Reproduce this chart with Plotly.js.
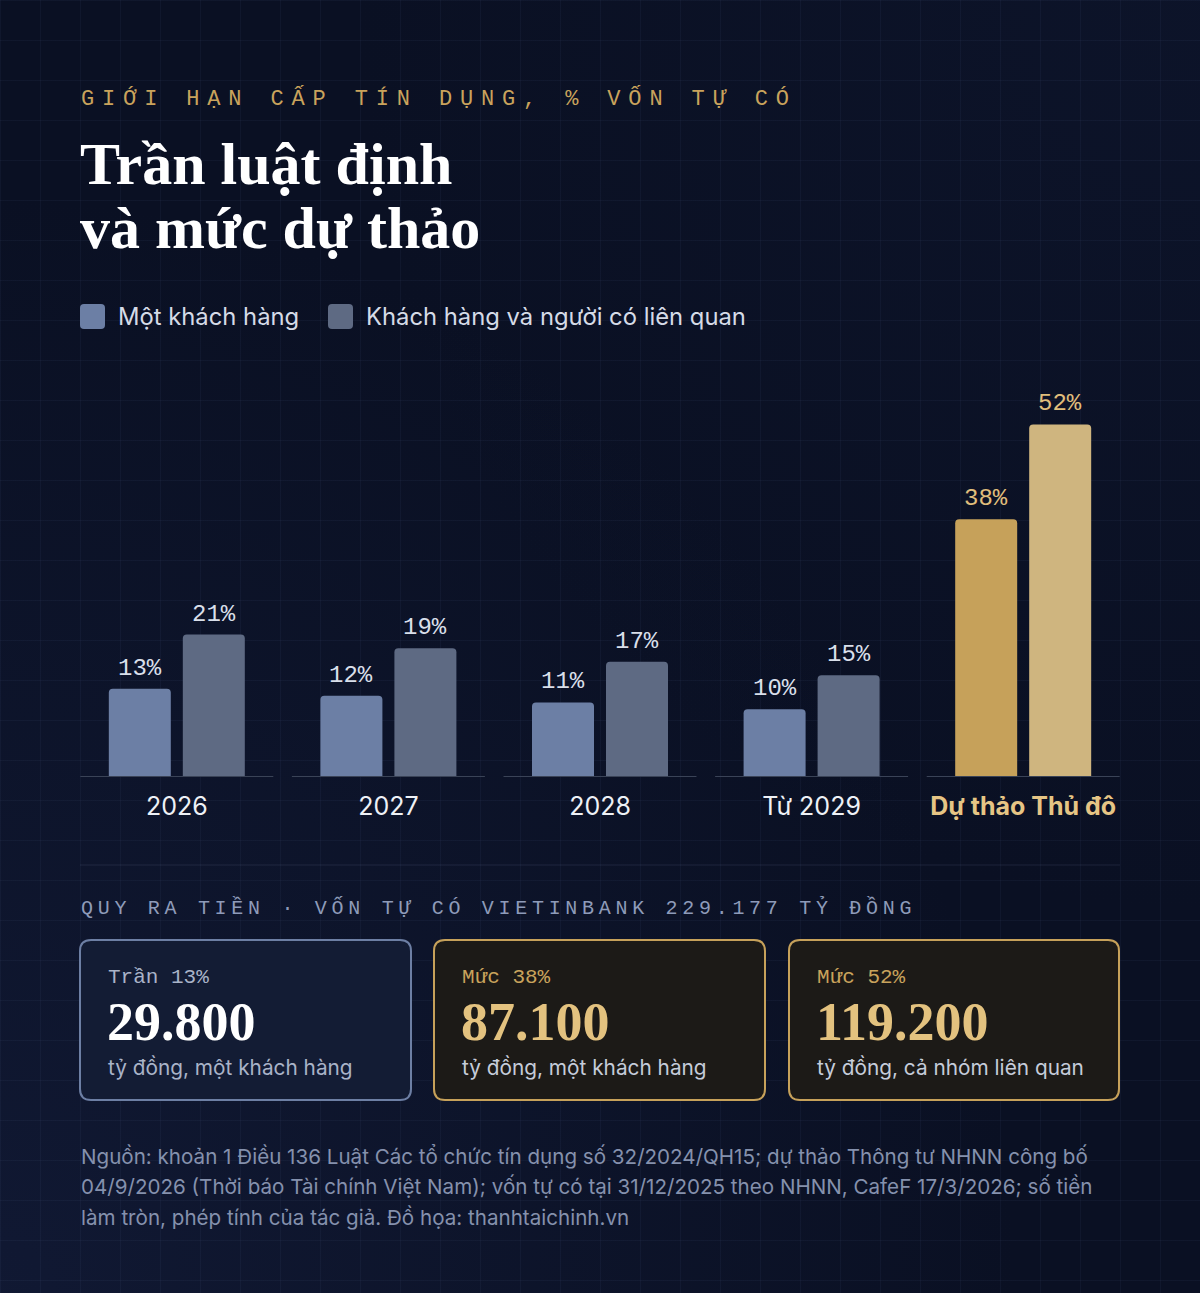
<!DOCTYPE html>
<html>
<head>
<meta charset="utf-8">
<script src="https://cdn.plot.ly/plotly-3.0.1.min.js"></script>
<style>
  html, body { margin: 0; padding: 0; }
  body {
    width: 1200px; height: 1293px; overflow: hidden;
    background-color: #0a1023;
    background-image:
      linear-gradient(rgba(120,140,200,0.06) 1px, transparent 1px),
      linear-gradient(90deg, rgba(120,140,200,0.06) 1px, transparent 1px),
      radial-gradient(ellipse at 0% 100%, rgba(28,40,80,0.35), rgba(0,0,0,0) 60%),
      radial-gradient(ellipse at 100% 0%, rgba(20,30,60,0.25), rgba(0,0,0,0) 50%);
    background-size: 40px 40px, 40px 40px, 100% 100%, 100% 100%;
  }
  #chart { width: 1200px; height: 1293px; }
  .annotation[data-index="0"] text { letter-spacing: 7.85px; }
  .annotation[data-index="1"] text { letter-spacing: 4.7px; }
</style>
</head>
<body>
<div id="chart"></div>
<script>
// ---------- DATA ----------
const kicker = "GIỚI HẠN CẤP TÍN DỤNG, % VỐN TỰ CÓ";
const titleLines = ["Trần luật định", "và mức dự thảo"];
const seriesNames = ["Một khách hàng", "Khách hàng và người có liên quan"];
const categories = ["2026", "2027", "2028", "Từ 2029", "Dự thảo Thủ đô"];
const oneCustomer = [13, 12, 11, 10, 38];
const relatedGroup = [21, 19, 17, 15, 52];
const subtitle = "QUY RA TIỀN · VỐN TỰ CÓ VIETINBANK 229.177 TỶ ĐỒNG";
const cardLabels = ["Trần 13%", "Mức 38%", "Mức 52%"];
const cardValues = ["29.800", "87.100", "119.200"];
const cardNotes = ["tỷ đồng, một khách hàng", "tỷ đồng, một khách hàng", "tỷ đồng, cả nhóm liên quan"];
const sourceLines = [
  "Nguồn: khoản 1 Điều 136 Luật Các tổ chức tín dụng số 32/2024/QH15; dự thảo Thông tư NHNN công bố",
  "04/9/2026 (Thời báo Tài chính Việt Nam); vốn tự có tại 31/12/2025 theo NHNN, CafeF 17/3/2026; số tiền",
  "làm tròn, phép tính của tác giả. Đồ họa: thanhtaichinh.vn"
];

// ---------- STYLE / LAYOUT HELPERS ----------
const W = 1200, H = 1293;
const px = x => x / W;
const py = y => 1 - y / H;
const highlight = categories.length - 1;
const C = {
  blue: '#6c7fa5', slate: '#5e6a83', gold1: '#c6a15a', gold2: '#cfb57f',
  lblLight: '#d9dfea', lblGold: '#e0be7c', text: '#eef1f6', muted: '#8a97b5'
};
const SANS = 'Inter, "Noto Sans", sans-serif';
const MONO = '"Liberation Mono", "DejaVu Sans Mono", monospace';
const SERIF = '"Liberation Serif", "DejaVu Serif", serif';

function roundRect(x0, y0, x1, y1, r) {
  const P = (x, y) => px(x) + ',' + py(y);
  return 'M' + P(x0 + r, y0) + ' L' + P(x1 - r, y0) + ' Q' + P(x1, y0) + ' ' + P(x1, y0 + r) +
    ' L' + P(x1, y1 - r) + ' Q' + P(x1, y1) + ' ' + P(x1 - r, y1) +
    ' L' + P(x0 + r, y1) + ' Q' + P(x0, y1) + ' ' + P(x0, y1 - r) +
    ' L' + P(x0, y0 + r) + ' Q' + P(x0, y0) + ' ' + P(x0 + r, y0) + ' Z';
}

// axis geometry (pixels)
const plotL = 80, plotR = 1120, baseY = 777, topY = 380;
const halfRange = 0.4575;
const stepPx = (plotR - plotL) / (categories.length - 1 + 2 * halfRange);
const pxPerUnit = 6.78;
const barW = 62 / stepPx;

const traces = [
  {
    type: 'bar', name: seriesNames[0], x: categories, y: oneCustomer,
    width: barW, offset: -68 / stepPx,
    marker: { color: categories.map((c, i) => i === highlight ? C.gold1 : C.blue), line: { width: 0 } },
    hoverinfo: 'skip', showlegend: false
  },
  {
    type: 'bar', name: seriesNames[1], x: categories, y: relatedGroup,
    width: barW, offset: 6 / stepPx,
    marker: { color: categories.map((c, i) => i === highlight ? C.gold2 : C.slate), line: { width: 0 } },
    hoverinfo: 'skip', showlegend: false
  }
];

const annotations = [];
// 0: kicker
annotations.push({ xref: 'paper', yref: 'paper', x: px(79), y: py(98), xanchor: 'left', yanchor: 'middle', align: 'left',
  text: kicker, showarrow: false, font: { family: MONO, size: 22, color: '#c9a35c' } });
// 1: subtitle
annotations.push({ xref: 'paper', yref: 'paper', x: px(79), y: py(908), xanchor: 'left', yanchor: 'middle', align: 'left',
  text: subtitle, showarrow: false, font: { family: MONO, size: 20, color: '#8e9bb9' } });
// title lines
titleLines.forEach((t, i) => {
  annotations.push({ xref: 'paper', yref: 'paper', x: px(78), y: py(164 + i * 64), xanchor: 'left', yanchor: 'middle', align: 'left',
    text: '<b>' + t + '</b>', showarrow: false, font: { family: SERIF, size: 60, color: '#ffffff' } });
});
// legend
const legendX = [80, 328];
seriesNames.forEach((n, i) => {
  annotations.push({ xref: 'paper', yref: 'paper', x: px(legendX[i] + 36), y: py(317), xanchor: 'left', yanchor: 'middle', align: 'left',
    text: n, showarrow: false, font: { family: SANS, size: 23.8, color: '#d5dbe7' } });
});
// value labels
[oneCustomer, relatedGroup].forEach((vals, s) => {
  vals.forEach((v, i) => {
    annotations.push({ xref: 'x', yref: 'y', x: i, y: v, xshift: s === 0 ? -37 : 37, yshift: 5,
      xanchor: 'center', yanchor: 'bottom', text: v + '%', showarrow: false,
      font: { family: MONO, size: 24, color: i === highlight ? C.lblGold : C.lblLight } });
  });
});
// cards
const cardX = [[80, 411], [434, 765], [789, 1119]];
const cardTop = 940, cardBot = 1100;
cardLabels.forEach((lab, i) => {
  const gold = i > 0;
  const x0 = cardX[i][0] + 26;
  annotations.push({ xref: 'paper', yref: 'paper', x: px(x0), y: py(977), xanchor: 'left', yanchor: 'middle', align: 'left',
    text: lab, showarrow: false, font: { family: MONO, size: 21, color: gold ? '#c9a35c' : '#a9b3c8' } });
  annotations.push({ xref: 'paper', yref: 'paper', x: px(x0 - 1), y: py(1022), xanchor: 'left', yanchor: 'middle', align: 'left',
    text: '<b>' + cardValues[i] + '</b>', showarrow: false, font: { family: SERIF, size: 54, color: gold ? '#e3c27f' : '#ffffff' } });
  annotations.push({ xref: 'paper', yref: 'paper', x: px(x0), y: py(1067), xanchor: 'left', yanchor: 'middle', align: 'left',
    text: cardNotes[i], showarrow: false, font: { family: SANS, size: 20.8, color: gold ? '#c5ccda' : '#a9b3c8' } });
});
// source
sourceLines.forEach((t, i) => {
  annotations.push({ xref: 'paper', yref: 'paper', x: px(79), y: py(1156 + i * 30.5), xanchor: 'left', yanchor: 'middle', align: 'left',
    text: t, showarrow: false, font: { family: SANS, size: 20.6, color: '#8591ad' } });
});

const shapes = [];
// legend squares
const legendColors = [C.blue, C.slate];
legendX.forEach((x, i) => {
  shapes.push({ type: 'path', xref: 'paper', yref: 'paper', path: roundRect(x, 304, x + 25, 329, 4),
    fillcolor: legendColors[i], line: { width: 0 }, layer: 'below' });
});
// group baselines
categories.forEach((c, i) => {
  shapes.push({ type: 'line', xref: 'x', yref: 'y', x0: i - 0.456, x1: i + 0.456, y0: 0, y1: 0,
    line: { color: '#3a4357', width: 2 }, layer: 'above' });
});
// separator
shapes.push({ type: 'line', xref: 'paper', yref: 'paper', x0: px(80), x1: px(1120), y0: py(865), y1: py(865),
  line: { color: 'rgba(140,155,200,0.14)', width: 1 } });
// cards
const cardFill = ['#131c34', '#1c1a17', '#1c1a17'];
const cardLine = ['#6d7fa4', '#c6a15a', '#c6a15a'];
cardX.forEach((cx, i) => {
  shapes.push({ type: 'path', xref: 'paper', yref: 'paper', path: roundRect(cx[0], cardTop, cx[1], cardBot, 11),
    fillcolor: cardFill[i], line: { color: cardLine[i], width: 2 }, layer: 'below' });
});

const layout = {
  width: W, height: H,
  margin: { l: 0, r: 0, t: 0, b: 0 },
  paper_bgcolor: 'rgba(0,0,0,0)', plot_bgcolor: 'rgba(0,0,0,0)',
  barmode: 'overlay', barcornerradius: 4,
  showlegend: false,
  xaxis: {
    domain: [px(plotL), px(plotR)], range: [-halfRange, categories.length - 1 + halfRange],
    type: 'category', tickmode: 'array', tickvals: categories,
    ticktext: categories.map((c, i) => i === highlight ? '<b><span style="color:#e6c585">' + c + '</span></b>' : c),
    tickfont: { family: SANS, size: 25, color: C.text },
    showgrid: false, zeroline: false, showline: false, ticks: '', ticklabelstandoff: 12, fixedrange: true
  },
  yaxis: {
    domain: [py(baseY), py(topY)], range: [0, (baseY - topY) / pxPerUnit],
    showgrid: false, zeroline: false, showline: false, showticklabels: false, ticks: '', fixedrange: true
  },
  annotations: annotations,
  shapes: shapes,
  font: { family: SANS }
};

Plotly.newPlot('chart', traces, layout, { displayModeBar: false, staticPlot: true });
</script>
</body>
</html>
